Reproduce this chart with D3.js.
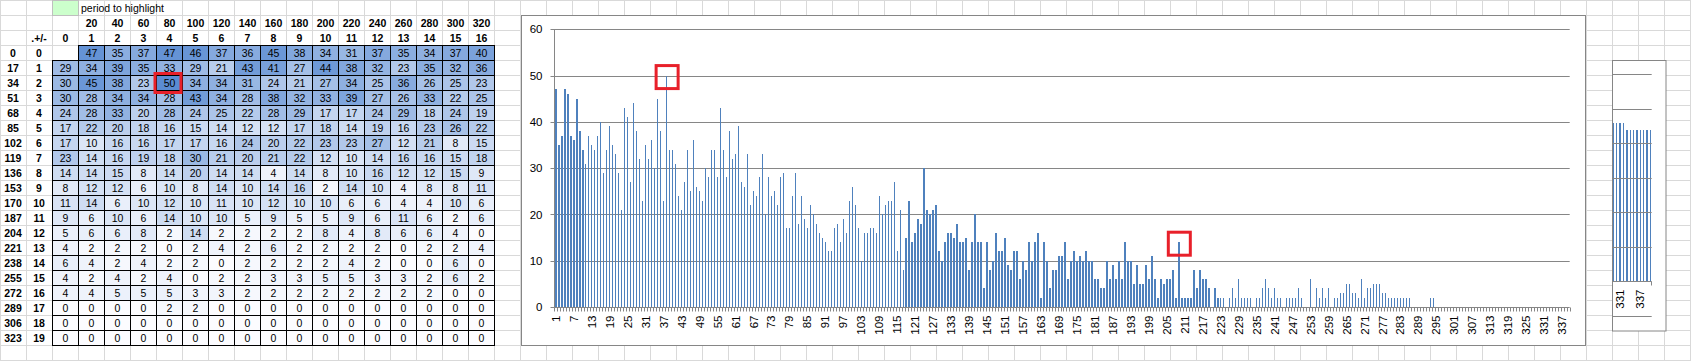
<!DOCTYPE html>
<html>
<head>
<meta charset="utf-8">
<script src="https://cdn.jsdelivr.net/npm/d3@7"></script>
<style>
  html, body { margin: 0; padding: 0; background: #fff; }
  svg { display: block; }
  text { font-family: "Liberation Sans", Arial, sans-serif; fill: #000; }
</style>
</head>
<body>
<svg id="sheet" width="1691" height="361"></svg>
<script>
// ---------------- DATA ----------------
const periods    = [20, 40, 60, 80, 100, 120, 140, 160, 180, 200, 220, 240, 260, 280, 300, 320];
const colNumbers = [0, 1, 2, 3, 4, 5, 6, 7, 8, 9, 10, 11, 12, 13, 14, 15, 16];
const rowStarts  = [0, 17, 34, 51, 68, 85, 102, 119, 136, 153, 170, 187, 204, 221, 238, 255, 272, 289, 306, 323];
const rowNumbers = [0, 1, 2, 3, 4, 5, 6, 7, 8, 9, 10, 11, 12, 13, 14, 15, 16, 17, 18, 19];

// counts, one row per offset (.+/-), columns 0..16 ; null = empty cell
const countRows = [
  [null, 47, 35, 37, 47, 46, 37, 36, 45, 38, 34, 31, 37, 35, 34, 37, 40],
  [29, 34, 39, 35, 33, 29, 21, 43, 41, 27, 44, 38, 32, 23, 35, 32, 36],
  [30, 45, 38, 23, 50, 34, 34, 31, 24, 21, 27, 34, 25, 36, 26, 25, 23],
  [30, 28, 34, 34, 28, 43, 34, 28, 38, 32, 33, 39, 27, 26, 33, 22, 25],
  [24, 28, 33, 20, 28, 24, 25, 22, 28, 29, 17, 17, 24, 29, 18, 24, 19],
  [17, 22, 20, 18, 16, 15, 14, 12, 12, 17, 18, 14, 19, 16, 23, 26, 22],
  [17, 10, 16, 16, 17, 17, 16, 24, 20, 22, 23, 23, 27, 12, 21, 8, 15],
  [23, 14, 16, 19, 18, 30, 21, 20, 21, 22, 12, 10, 14, 16, 16, 15, 18],
  [14, 14, 15, 8, 14, 20, 14, 14, 4, 14, 8, 10, 16, 12, 12, 15, 9],
  [8, 12, 12, 6, 10, 8, 14, 10, 14, 16, 2, 14, 10, 4, 8, 8, 11],
  [11, 14, 6, 10, 12, 10, 11, 10, 12, 10, 10, 6, 6, 4, 4, 10, 6],
  [9, 6, 10, 6, 14, 10, 10, 5, 9, 5, 5, 9, 6, 11, 6, 2, 6],
  [5, 6, 6, 8, 2, 14, 2, 2, 2, 2, 8, 4, 8, 6, 6, 4, 0],
  [4, 2, 2, 2, 0, 2, 4, 2, 6, 2, 2, 2, 2, 0, 2, 2, 4],
  [6, 4, 2, 4, 2, 2, 0, 2, 2, 2, 2, 4, 2, 0, 0, 6, 0],
  [4, 2, 4, 2, 4, 0, 2, 2, 3, 3, 5, 5, 3, 3, 2, 6, 2],
  [4, 4, 5, 5, 5, 3, 3, 2, 2, 2, 2, 2, 2, 2, 2, 0, 0],
  [0, 0, 0, 0, 2, 2, 0, 0, 0, 0, 0, 0, 0, 0, 0, 0, 0],
  [0, 0, 0, 0, 0, 0, 0, 0, 0, 0, 0, 0, 0, 0, 0, 0, 0],
  [0, 0, 0, 0, 0, 0, 0, 0, 0, 0, 0, 0, 0, 0, 0, 0, 0]
];

const tableHighlight = {row: 2, col: 4};
const chartHighlights = [38, 209];
const yTicks = [0, 10, 20, 30, 40, 50, 60];

// small side chart
const miniCategories = [329, 330, 331, 332, 333, 334, 335, 336, 337, 338, 339, 340];
const miniValues     = [4.6, 4.6, 4.6, 4.6, 4.4, 4.4, 4.4, 4.4, 4.4, 4.4, 4.4, 4.4];
const miniTickLabels = [331, 337];
const miniGrid       = [-1, 1, 2, 3, 4, 5, 6];

// ---------------- DRAW ----------------
const svg = d3.select("#sheet");
const W = 1691, H = 361;
const colW = 26, rowH = 15;
const FONT = "\"Liberation Sans\", Arial, sans-serif";

// spreadsheet gridlines
const gridG = svg.append("g").attr("stroke", "#d9d9d9").attr("stroke-width", 1);
d3.range(0, 66).forEach(k => gridG.append("line").attr("x1", k * colW + 0.5).attr("x2", k * colW + 0.5).attr("y1", 0).attr("y2", H));
d3.range(0, 25).forEach(k => gridG.append("line").attr("x1", 0).attr("x2", W).attr("y1", k * rowH + 0.5).attr("y2", k * rowH + 0.5));

// ---------- table ----------
const tX0 = 52.5, tY0 = 45.5;
const color = d3.scaleLinear().domain([0, 50]).range(["#fcfcff", "#5b8cd2"]);

// period to highlight
svg.append("rect").attr("x", tX0).attr("y", 0.5).attr("width", colW).attr("height", rowH)
  .attr("fill", "#ccffcc").attr("stroke", "#bfbfbf");
svg.append("text").attr("x", 81).attr("y", 8).attr("dy", "0.35em")
  .attr("font-size", "10.5px").text("period to highlight");

// header rows
svg.selectAll("text.period").data(periods).join("text")
  .attr("class", "period")
  .attr("x", (d, i) => tX0 + (i + 1) * colW + colW / 2).attr("y", 23).attr("dy", "0.35em")
  .attr("text-anchor", "middle").attr("font-size", "10.5px").attr("font-weight", "bold").text(d => d);
svg.selectAll("text.colnum").data(colNumbers).join("text")
  .attr("class", "colnum")
  .attr("x", (d, i) => tX0 + i * colW + colW / 2).attr("y", 38).attr("dy", "0.35em")
  .attr("text-anchor", "middle").attr("font-size", "10.5px").attr("font-weight", "bold").text(d => d);
svg.append("text").attr("x", 39).attr("y", 38).attr("dy", "0.35em").attr("text-anchor", "middle")
  .attr("font-size", "10.5px").attr("font-weight", "bold").text(".+/-");

svg.selectAll("text.rowstart").data(rowStarts).join("text")
  .attr("class", "rowstart")
  .attr("x", 13).attr("y", (d, i) => tY0 + i * rowH + 7.5).attr("dy", "0.35em")
  .attr("text-anchor", "middle").attr("font-size", "10.5px").attr("font-weight", "bold").text(d => d);
svg.selectAll("text.rownum").data(rowNumbers).join("text")
  .attr("class", "rownum")
  .attr("x", 39).attr("y", (d, i) => tY0 + i * rowH + 7.5).attr("dy", "0.35em")
  .attr("text-anchor", "middle").attr("font-size", "10.5px").attr("font-weight", "bold").text(d => d);

const cells = [];
countRows.forEach((row, r) => row.forEach((v, c) => cells.push({r, c, v})));
const cellG = svg.append("g");
cellG.selectAll("rect").data(cells.filter(d => d.v !== null)).join("rect")
  .attr("x", d => tX0 + d.c * colW).attr("y", d => tY0 + d.r * rowH)
  .attr("width", colW).attr("height", rowH)
  .attr("fill", d => color(d.v)).attr("stroke", "#000").attr("stroke-width", 1);
cellG.selectAll("text").data(cells.filter(d => d.v !== null)).join("text")
  .attr("x", d => tX0 + d.c * colW + colW / 2).attr("y", d => tY0 + d.r * rowH + 7.5).attr("dy", "0.36em")
  .attr("text-anchor", "middle").attr("font-size", "10.5px").text(d => d.v);

// red highlight in table
svg.append("rect")
  .attr("x", tX0 + tableHighlight.col * colW - 1.5).attr("y", tY0 + tableHighlight.row * rowH - 2)
  .attr("width", colW).attr("height", rowH + 4)
  .attr("fill", "none").attr("stroke", "#e8202a").attr("stroke-width", 3);

// ---------- main chart ----------
const categories = d3.range(1, 340);
const values = categories.map(i => countRows[Math.floor(i / 17)][i % 17]);

svg.append("rect").attr("x", 521.5).attr("y", 15.5).attr("width", 1064).attr("height", 330)
  .attr("fill", "#fff").attr("stroke", "#868686");

const x = d3.scaleBand().domain(categories).range([554.3, 1569.7]).paddingInner(0.5).paddingOuter(0.25);
const y = d3.scaleLinear().domain([0, 60]).range([307, 29.3]);
const step = x.step();
const xLeft = 554.3, xRight = 1569.7;

const chartG = svg.append("g");
// gridlines
chartG.selectAll("line.grid").data(yTicks.filter(v => v > 0)).join("line")
  .attr("class", "grid")
  .attr("x1", xLeft).attr("x2", xRight)
  .attr("y1", d => Math.round(y(d)) + 0.5).attr("y2", d => Math.round(y(d)) + 0.5)
  .attr("stroke", "#868686").attr("stroke-width", 1);

// bars
chartG.selectAll("rect.bar").data(categories).join("rect")
  .attr("class", "bar")
  .attr("x", d => x(d)).attr("width", x.bandwidth())
  .attr("y", (d, i) => y(values[i])).attr("height", (d, i) => y(0) - y(values[i]))
  .attr("fill", "#4f81bd").attr("shape-rendering", "crispEdges");

// axes
const yAxisX = Math.round(xLeft) + 0.5;
const baseY = Math.round(y(0)) + 0.5;
chartG.append("line").attr("x1", yAxisX).attr("x2", yAxisX).attr("y1", Math.round(y(60))).attr("y2", baseY)
  .attr("stroke", "#868686");
chartG.append("line").attr("x1", xLeft).attr("x2", xRight).attr("y1", baseY).attr("y2", baseY)
  .attr("stroke", "#868686");
chartG.selectAll("line.ytick").data(yTicks).join("line")
  .attr("class", "ytick")
  .attr("x1", yAxisX - 4).attr("x2", yAxisX)
  .attr("y1", d => Math.round(y(d)) + 0.5).attr("y2", d => Math.round(y(d)) + 0.5)
  .attr("stroke", "#868686");
chartG.selectAll("text.ylab").data(yTicks).join("text")
  .attr("class", "ylab")
  .attr("x", 542.5).attr("y", d => y(d)).attr("dy", "0.36em")
  .attr("text-anchor", "end").attr("font-size", "11.5px").text(d => d);

// x ticks (category boundaries)
const boundaries = categories.map(c => x(c) - x.step() * x.paddingInner() / 2 - 0).concat([xRight]);
chartG.selectAll("line.xtick").data(categories.concat([null])).join("line")
  .attr("class", "xtick")
  .attr("x1", (d, i) => Math.round(xLeft + i * step) + 0.5)
  .attr("x2", (d, i) => Math.round(xLeft + i * step) + 0.5)
  .attr("y1", baseY).attr("y2", baseY + 4)
  .attr("stroke", "#868686");

const xLabels = categories.filter(c => (c - 1) % 6 === 0);
chartG.selectAll("text.xlab").data(xLabels).join("text")
  .attr("class", "xlab")
  .attr("transform", d => `translate(${x(d) + x.bandwidth() / 2},315.5) rotate(-90)`)
  .attr("dy", "0.35em").attr("text-anchor", "end").attr("font-size", "11.5px").text(d => d);

// red highlight boxes on chart
chartG.selectAll("rect.hl").data(chartHighlights).join("rect")
  .attr("class", "hl")
  .attr("x", d => x(d) + x.bandwidth() / 2 - 10.5)
  .attr("y", d => y(values[d - 1]) - 10)
  .attr("width", 22).attr("height", 23)
  .attr("fill", "none").attr("stroke", "#e8202a").attr("stroke-width", 3);

// ---------- mini chart ----------
svg.append("rect").attr("x", 1612.5).attr("y", 60.5).attr("width", 53.5).attr("height", 270.5)
  .attr("fill", "#fff").attr("stroke", "#868686");
const mx = d3.scaleBand().domain(miniCategories).range([1612.7, 1651.1]).paddingInner(0.6).paddingOuter(0);
const my = d3.scaleLinear().domain([-1, 6]).range([316, 74.3]);
const miniG = svg.append("g");
miniG.selectAll("rect").data(miniCategories).join("rect")
  .attr("x", d => mx(d)).attr("width", Math.max(1, mx.bandwidth()))
  .attr("y", (d, i) => my(miniValues[i])).attr("height", (d, i) => my(0) - my(miniValues[i]))
  .attr("fill", "#4f81bd").attr("shape-rendering", "crispEdges");
miniG.selectAll("line.mgrid").data(miniGrid).join("line")
  .attr("class", "mgrid")
  .attr("x1", 1612.7).attr("x2", 1651.7)
  .attr("y1", d => Math.round(my(d)) + 0.5).attr("y2", d => Math.round(my(d)) + 0.5)
  .attr("stroke", "#868686");
const mBase = Math.round(my(0)) + 0.5;
miniG.append("line").attr("x1", 1612.7).attr("x2", 1651.7).attr("y1", mBase).attr("y2", mBase).attr("stroke", "#868686");
miniG.append("line").attr("x1", 1651.5).attr("x2", 1651.5).attr("y1", mBase).attr("y2", mBase + 4).attr("stroke", "#868686");
miniG.selectAll("text").data(miniTickLabels).join("text")
  .attr("transform", d => `translate(${mx(d) + mx.bandwidth() / 2},289.5) rotate(-90)`)
  .attr("dy", "0.35em").attr("text-anchor", "end").attr("font-size", "11.5px").text(d => d);
</script>
</body>
</html>
